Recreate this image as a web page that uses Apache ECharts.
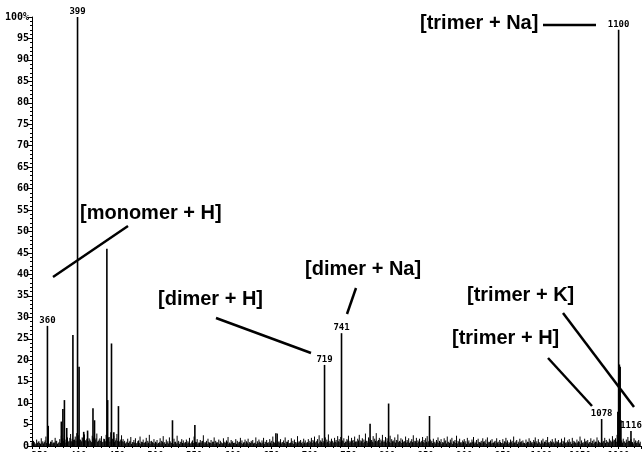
<!DOCTYPE html>
<html><head><meta charset="utf-8">
<script src="https://cdn.jsdelivr.net/npm/echarts@6/dist/echarts.min.js"></script>
<style>html,body{margin:0;padding:0;background:#fff}#c{width:644px;height:452px}</style>
</head><body><div id="c"></div>
<script>
// Main peaks (m/z, relative intensity %)
const peakMz  = [360, 361, 378, 380, 382, 385, 393, 399, 401, 407, 412, 419, 421, 437, 438, 443, 446, 452, 522, 551, 656, 719, 741, 778, 802, 855, 1078, 1099, 1100, 1101, 1102, 1103, 1116];
const peakInt = [28, 4.7, 5.7, 8.6, 10.7, 4.2, 25.9, 100, 18.5, 3.3, 3.6, 8.8, 6, 46, 10.7, 23.9, 3.2, 9.3, 6, 4.9, 3, 18.9, 26.3, 5.2, 9.9, 7, 6.3, 8, 97, 19, 18.5, 6, 3.5];
const labeledMz = [360, 399, 719, 741, 1078, 1100, 1116];

// Baseline noise, one value every 2 m/z starting at 340
const noiseStart = 340, noiseStep = 2;
const noiseInt = [
0.8,1.2,0.6,1.5,1.0,0.7,1.8,1.1,0.9,2.2, 1.3,0.6,1.0,1.4,0.8,1.9,1.2,0.7,1.6,2.4,
1.8,2.6,1.5,2.0,1.2,2.8,1.7,1.4,2.2,3.0, 2.5,1.6,1.1,1.9,2.7,1.3,3.1,1.8,1.2,2.4,
2.0,1.5,2.9,1.2,1.8,2.3,1.0,1.6,2.6,1.4, 2.1,3.2,1.7,2.4,1.3,2.8,1.9,1.1,2.5,1.6,
1.2,0.8,1.7,1.0,2.1,0.9,1.4,1.8,0.7,1.3, 2.2,1.0,1.5,0.8,1.9,1.2,2.6,1.1,0.9,1.6,
1.0,1.4,0.7,1.8,1.2,2.3,0.9,1.5,1.1,2.0, 0.8,1.3,1.7,1.0,2.4,1.2,0.9,1.6,1.3,0.8,
1.5,1.1,1.9,0.7,1.3,2.2,1.0,1.6,0.8,1.4, 1.1,2.5,0.9,1.2,1.7,0.8,1.4,1.0,2.0,1.2,
0.9,1.5,1.2,0.7,1.8,1.0,1.3,2.1,0.8,1.4, 1.1,0.7,1.6,1.2,0.9,1.9,1.3,0.8,1.5,1.1,
1.7,0.9,1.2,1.4,0.7,2.0,1.1,1.5,0.8,1.3, 1.9,1.0,1.4,0.9,1.6,1.2,2.2,0.8,1.3,2.9,
1.1,1.6,0.9,1.3,2.0,1.0,1.4,0.7,1.8,1.2, 1.5,0.9,2.3,1.1,1.4,1.0,1.7,1.3,0.8,1.6,
1.2,1.9,1.4,2.2,1.0,1.6,2.5,1.3,1.8,1.1, 2.0,1.5,2.7,1.2,1.7,1.0,1.9,1.4,2.3,1.6,
2.1,1.3,1.8,1.0,1.6,2.4,1.2,1.9,1.4,2.2, 1.1,1.7,2.6,1.3,1.8,1.5,2.9,1.2,2.0,1.6,
1.4,2.3,1.7,3.0,1.2,1.9,1.5,2.6,1.3,2.1, 1.8,1.1,2.4,1.6,1.3,2.0,1.4,2.7,1.2,1.8,
1.5,1.1,2.2,1.4,1.8,1.0,1.6,2.5,1.2,1.9, 1.3,1.7,1.0,2.1,1.4,1.8,2.3,1.1,1.5,1.2,
1.7,1.0,1.4,2.0,1.2,1.6,0.9,1.8,1.3,2.2, 1.0,1.5,1.9,1.1,1.4,2.4,1.2,1.7,0.9,1.3,
1.6,1.1,1.9,1.3,0.8,1.5,2.1,1.0,1.4,1.7, 0.9,1.2,1.8,1.1,1.5,2.0,1.0,1.3,1.6,0.8,
1.2,1.8,1.0,1.4,0.7,1.6,1.1,1.9,1.3,0.9, 1.5,1.2,2.2,0.8,1.4,1.0,1.7,1.1,1.3,0.7,
1.5,1.0,1.8,1.2,0.9,1.4,2.0,1.1,1.6,0.8, 1.3,1.7,1.0,1.4,2.1,0.9,1.2,1.6,1.0,1.8,
1.1,1.4,0.8,1.7,1.2,2.0,0.9,1.3,1.6,1.0, 1.9,1.2,0.8,1.5,1.1,2.2,1.3,0.9,1.7,1.2,
1.4,0.9,1.8,1.2,1.5,1.0,2.0,1.3,0.8,1.6, 1.1,1.9,1.4,1.0,1.7,1.2,2.3,1.5,1.8,2.6,
2.4,1.9,1.3,1.7,1.0,1.5,2.1,1.2,1.6,0.9, 1.8,1.3,1.1,1.4,1.0
];
// Second, lower noise layer between the first (odd m/z, starting at 341)
const noise2Start = 341;
const noise2Int = [
0.5,0.9,0.4,0.7,1.1,0.5,0.8,0.6,1.3,0.7, 0.9,0.5,1.0,0.6,0.8,1.2,0.5,0.9,0.7,1.4,
1.2,0.8,1.6,1.0,1.9,1.1,0.9,1.5,1.2,1.8, 1.0,1.4,2.0,0.9,1.3,1.7,1.1,1.5,0.9,1.6,
1.3,1.8,1.0,1.5,1.2,0.9,1.7,1.1,1.4,2.0, 1.0,1.3,1.6,0.9,1.8,1.2,1.0,1.5,1.1,0.9,
0.6,1.0,0.7,1.2,0.5,0.9,0.8,0.6,1.1,0.7, 0.5,0.9,0.7,1.0,0.6,0.8,0.5,1.2,0.7,0.6,
0.8,0.5,0.9,0.6,1.0,0.7,0.5,0.8,0.6,1.1, 0.7,0.5,0.9,0.6,0.8,0.5,1.0,0.7,0.6,0.9,
0.6,0.8,0.5,1.0,0.7,0.6,0.9,0.5,0.8,0.7, 1.2,0.6,0.8,0.5,0.9,0.7,0.6,1.0,0.5,0.8,
0.7,0.5,0.9,0.6,0.8,0.7,1.0,0.5,0.6,0.9, 0.7,0.8,0.5,0.6,1.0,0.7,0.5,0.9,0.6,0.8,
0.5,0.7,0.9,0.6,0.8,0.5,0.7,1.0,0.6,0.8, 0.5,0.9,0.7,0.6,0.8,0.5,1.0,0.7,0.6,0.9,
0.8,0.6,0.9,0.7,0.5,1.0,0.6,0.8,0.7,0.5, 0.9,0.6,0.8,1.0,0.7,0.5,0.8,0.6,0.9,0.7,
0.9,0.7,1.1,0.8,1.2,0.6,0.9,1.0,0.7,1.3, 0.8,1.0,0.6,0.9,1.2,0.7,1.0,0.8,1.1,0.9,
0.8,1.1,0.7,1.0,1.3,0.8,0.9,1.2,0.7,1.0, 0.9,1.3,0.8,1.1,0.7,1.0,1.2,0.8,0.9,1.1,
1.0,0.8,1.2,0.9,1.4,0.7,1.1,0.9,1.0,0.8, 1.2,0.9,0.7,1.1,1.0,0.8,1.3,0.9,1.0,0.7,
0.9,1.1,0.8,1.0,0.7,1.2,0.9,0.8,1.1,0.7, 1.0,0.8,1.2,0.9,0.7,1.0,0.8,1.1,0.9,0.7,
0.8,0.6,1.0,0.7,0.9,0.5,0.8,1.1,0.6,0.9, 0.7,0.8,0.5,1.0,0.7,0.6,0.9,0.8,0.6,1.0,
0.7,0.5,0.9,0.6,0.8,1.0,0.6,0.7,0.5,0.9, 0.8,0.6,1.0,0.7,0.5,0.8,0.9,0.6,0.7,1.0,
0.6,0.8,0.5,0.9,0.7,0.6,1.0,0.8,0.5,0.7, 0.9,0.6,0.8,1.1,0.5,0.7,0.9,0.6,0.8,0.5,
0.7,0.9,0.6,0.8,0.5,1.0,0.7,0.6,0.9,0.5, 0.8,0.6,1.0,0.7,0.8,0.5,0.9,0.7,0.6,0.8,
0.9,0.6,0.8,0.5,1.0,0.7,0.6,0.9,0.8,0.5, 0.7,1.0,0.6,0.8,0.9,0.5,0.7,0.6,1.0,0.8,
0.6,0.9,0.7,0.5,0.8,1.0,0.6,0.9,0.7,0.8, 1.2,0.7,1.0,0.8,1.3,0.9,1.1,1.4,1.0,1.6,
1.3,1.0,0.8,1.1,0.7,0.9,1.2,0.8,1.0,0.6, 0.9,0.7,0.8,0.6
];

// Annotations
const annoText = ['[trimer + Na]', '[monomer + H]', '[dimer + Na]', '[dimer + H]', '[trimer + K]', '[trimer + H]'];

const noiseData = noiseInt.map((v, i) => [noiseStart + noiseStep * i, v]);
const noise2Data = noise2Int.map((v, i) => [noise2Start + noiseStep * i, v]);
const peakData = peakMz.map((m, i) => [m, peakInt[i]]);
const labelData = labeledMz.map(m => [m, peakInt[peakMz.indexOf(m)]]);

function stick(width) {
  return function (params, api) {
    const x = api.value(0), y = api.value(1);
    const p0 = api.coord([x, 0]);
    const p1 = api.coord([x, y]);
    return { type: 'line', shape: { x1: p0[0], y1: p0[1], x2: p1[0], y2: p1[1] },
      style: { stroke: '#000', lineWidth: width } };
  };
}

const chart = echarts.init(document.getElementById('c'), null, { renderer: 'canvas' });
const labelFont = 'bold 9px "DejaVu Sans Mono"';
const annoFont = 'bold 20px "Liberation Sans", Arial, sans-serif';

const annoPos = [[420, 25], [80, 215], [305, 271], [158, 301], [467, 297], [452, 340]];
const annoLines = [
  [543, 25, 596, 25],
  [128, 226, 53, 277],
  [356, 288, 347, 314],
  [216, 318, 311, 353],
  [563, 313, 634, 407],
  [548, 358, 592, 406]
];

const graphic = [];
annoText.forEach((t, i) => {
  graphic.push({ type: 'text', left: annoPos[i][0], top: annoPos[i][1] - 12, z: 100,
    style: { text: t, font: annoFont, fill: '#000' } });
  const l = annoLines[i];
  graphic.push({ type: 'line', z: 100, shape: { x1: l[0], y1: l[1], x2: l[2], y2: l[3] },
    style: { stroke: '#000', lineWidth: 2.5 } });
});

chart.setOption({
  animation: false,
  backgroundColor: '#fff',
  grid: { left: 32, right: 3, top: 17, bottom: 6, outerBoundsMode: 'none', containLabel: false },
  xAxis: {
    type: 'value', min: 340, max: 1129, splitNumber: 16,
    axisLine: { show: true, onZero: false, lineStyle: { color: '#000', width: 1 } },
    axisTick: { show: true, length: 3, lineStyle: { color: '#000' } },
    minorTick: { show: true, splitNumber: 5, length: 2, lineStyle: { color: '#000' } },
    splitLine: { show: false },
    axisLabel: { showMinLabel: false, showMaxLabel: false, color: '#000', margin: 5,
      formatter: v => String(v),
      fontFamily: 'DejaVu Sans Mono', fontWeight: 'bold', fontSize: 9 }
  },
  yAxis: {
    type: 'value', min: 0, max: 100, interval: 5,
    axisLine: { show: true, lineStyle: { color: '#000', width: 1 } },
    axisTick: { show: true, length: 4, lineStyle: { color: '#000' } },
    minorTick: { show: true, splitNumber: 5, length: 2, lineStyle: { color: '#000' } },
    splitLine: { show: false },
    axisLabel: { formatter: v => v === 100 ? '100%' : String(v), color: '#000', margin: 3,
      fontFamily: 'DejaVu Sans Mono', fontWeight: 'bold', fontSize: 10 }
  },
  series: [
    { type: 'custom', name: 'noise', data: noiseData, renderItem: stick(1), silent: true },
    { type: 'custom', name: 'noise2', data: noise2Data, renderItem: stick(1), silent: true },
    { type: 'custom', name: 'peaks', data: peakData, renderItem: stick(1.6), silent: true },
    { type: 'custom', name: 'labels', data: labelData, silent: true,
      renderItem: function (params, api) {
        const p = api.coord([api.value(0), api.value(1)]);
        return { type: 'text', x: p[0], y: p[1] - 1,
          style: { text: String(api.value(0)), font: labelFont, fill: '#000',
            textAlign: 'center', textVerticalAlign: 'bottom' } };
      } }
  ],
  graphic: graphic
});
</script>
</body></html>
